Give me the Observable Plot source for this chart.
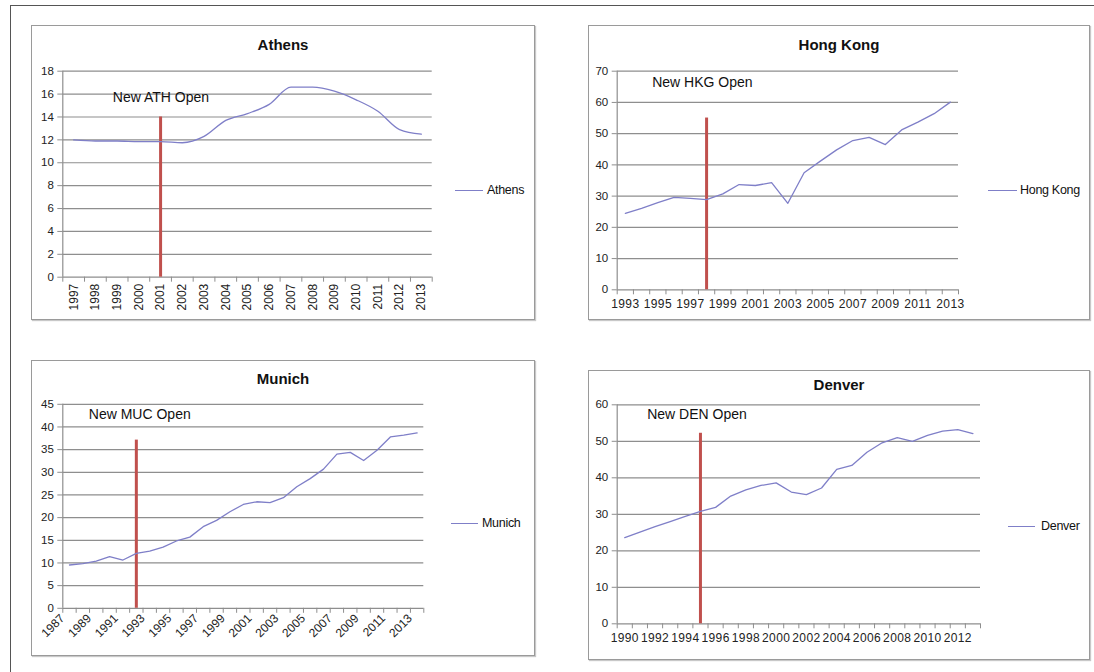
<!DOCTYPE html>
<html><head><meta charset="utf-8">
<script src="https://cdn.jsdelivr.net/npm/d3@7"></script>
<script src="https://cdn.jsdelivr.net/npm/@observablehq/plot@0.6"></script>
<style>
html,body{margin:0;padding:0;background:#fff;}
#page{position:relative;width:1094px;height:672px;overflow:hidden;font-family:"Liberation Sans",Arial,sans-serif;background:#fff;}
.outer{position:absolute;left:10px;top:5px;width:2000px;height:2000px;border:1px solid #555;box-sizing:border-box;}
.frame{position:absolute;border:1px solid #9a9a9a;box-shadow:1px 1px 1px #c8c8c8;box-sizing:border-box;background:#fff;}
.title{position:absolute;font-weight:bold;font-size:15px;color:#111;transform:translate(-50%,-50%);white-space:nowrap;}
.legline{position:absolute;height:0;border-top:1.3px solid #7f7fc8;}
.legtext{position:absolute;font-size:12.5px;color:#111;transform:translateY(-50%);white-space:nowrap;letter-spacing:-0.3px;}
</style></head><body><div id="page"><div class="outer"></div></div>
<script>
// ---- data ----
const athensTitle = "Athens";
const athensYears = [1997,1998,1999,2000,2001,2002,2003,2004,2005,2006,2007,2008,2009,2010,2011,2012,2013];
const athensValues = [12.0,11.9,11.9,11.85,11.85,11.75,12.3,13.7,14.3,15.1,16.6,16.6,16.25,15.5,14.5,12.9,12.5];
const athensXTicks = [1997,1998,1999,2000,2001,2002,2003,2004,2005,2006,2007,2008,2009,2010,2011,2012,2013];
const athensYTicks = [0,2,4,6,8,10,12,14,16,18];
const athensOpen = 2001, athensMarkerTop = 14, athensNote = "New ATH Open";

const hkTitle = "Hong Kong";
const hkYears = [1993,1994,1995,1996,1997,1998,1999,2000,2001,2002,2003,2004,2005,2006,2007,2008,2009,2010,2011,2012,2013];
const hkValues = [24.5,26.1,27.9,29.6,29.3,28.9,30.7,33.7,33.4,34.3,27.7,37.5,41.2,44.8,47.8,48.8,46.5,51.2,53.7,56.4,60.1];
const hkXTicks = [1993,1995,1997,1999,2001,2003,2005,2007,2009,2011,2013];
const hkYTicks = [0,10,20,30,40,50,60,70];
const hkOpen = 1998, hkMarkerTop = 55, hkNote = "New HKG Open";

const munichTitle = "Munich";
const munichYears = [1987,1988,1989,1990,1991,1992,1993,1994,1995,1996,1997,1998,1999,2000,2001,2002,2003,2004,2005,2006,2007,2008,2009,2010,2011,2012,2013];
const munichValues = [9.55,9.85,10.4,11.4,10.65,12.1,12.6,13.5,14.85,15.7,18.0,19.4,21.3,22.9,23.5,23.3,24.4,26.8,28.6,30.7,34.0,34.4,32.6,34.85,37.8,38.2,38.7];
const munichXTicks = [1987,1989,1991,1993,1995,1997,1999,2001,2003,2005,2007,2009,2011,2013];
const munichYTicks = [0,5,10,15,20,25,30,35,40,45];
const munichOpen = 1992, munichMarkerTop = 37.1, munichNote = "New MUC Open";

const denverTitle = "Denver";
const denverYears = [1990,1991,1992,1993,1994,1995,1996,1997,1998,1999,2000,2001,2002,2003,2004,2005,2006,2007,2008,2009,2010,2011,2012,2013];
const denverValues = [23.6,25.1,26.6,28.0,29.4,30.8,31.9,35.0,36.7,37.9,38.6,36.1,35.4,37.2,42.3,43.4,47.0,49.6,51.0,50.0,51.6,52.8,53.2,52.1];
const denverXTicks = [1990,1992,1994,1996,1998,2000,2002,2004,2006,2008,2010,2012];
const denverYTicks = [0,10,20,30,40,50,60];
const denverOpen = 1995, denverMarkerTop = 52.2, denverNote = "New DEN Open";

// ---- layout ----
const panels = [
  {title: athensTitle, years: athensYears, values: athensValues, xTicks: athensXTicks, yTicks: athensYTicks,
   open: athensOpen, markerTop: athensMarkerTop, note: athensNote,
   frame: {l: 31, t: 25, r: 535, b: 320}, plot: {x0: 62.3, x1: 431.7, y0: 70.7, y1: 276.7},
   rotate: -90, pad: 6.5, dx: 0, spacing: 0, noteDx: 50, noteDy: 26.5, titleY: 44,
   leg: {x0: 455, x1: 483, y: 190, tx: 487}, curve: "monotone-x"},
  {title: hkTitle, years: hkYears, values: hkValues, xTicks: hkXTicks, yTicks: hkYTicks,
   open: hkOpen, markerTop: hkMarkerTop, note: hkNote,
   frame: {l: 588, t: 25, r: 1090, b: 320}, plot: {x0: 616.7, x1: 958, y0: 70.7, y1: 289.3},
   rotate: 0, pad: 10, dx: 0, spacing: 0.4, noteDx: 35, noteDy: 11, titleY: 44,
   leg: {x0: 988, x1: 1017, y: 190, tx: 1020}, curve: "linear"},
  {title: munichTitle, years: munichYears, values: munichValues, xTicks: munichXTicks, yTicks: munichYTicks,
   open: munichOpen, markerTop: munichMarkerTop, note: munichNote,
   frame: {l: 31, t: 359.5, r: 535, b: 656}, plot: {x0: 62.3, x1: 423.3, y0: 403.3, y1: 607.3},
   rotate: -45, pad: 8, dx: -7, spacing: 0, noteDx: 26, noteDy: 10, titleY: 378,
   leg: {x0: 451, x1: 478, y: 523, tx: 482}, curve: "linear"},
  {title: denverTitle, years: denverYears, values: denverValues, xTicks: denverXTicks, yTicks: denverYTicks,
   open: denverOpen, markerTop: denverMarkerTop, note: denverNote,
   frame: {l: 588, t: 370, r: 1090, b: 660}, plot: {x0: 616.7, x1: 980, y0: 404.3, y1: 623.3},
   rotate: 0, pad: 9.5, dx: 0, spacing: 0.4, noteDx: 30, noteDy: 10, titleY: 384,
   leg: {x0: 1008, x1: 1035, y: 526, tx: 1041}, curve: "linear"}
];

const page = document.getElementById("page");
const gridColor = "#8e8e8e";
const seriesColor = "#7f7fc8";

function el(cls, css, text) {
  const d = document.createElement("div");
  d.className = cls;
  Object.assign(d.style, css);
  if (text !== undefined) d.textContent = text;
  page.appendChild(d);
  return d;
}

for (const p of panels) {
  const f = p.frame;
  el("frame", {left: f.l + "px", top: f.t + "px", width: (f.r - f.l) + "px", height: (f.b - f.t) + "px"});

  const data = p.years.map((year, i) => ({year, value: p.values[i]}));
  const first = p.years[0], last = p.years[p.years.length - 1];
  const bounds = p.years.map(y => y - 0.5).concat([last + 0.5]);
  const yMax = p.yTicks[p.yTicks.length - 1];

  const chart = Plot.plot({
    width: f.r - f.l,
    height: f.b - f.t,
    marginLeft: p.plot.x0 - f.l,
    marginRight: f.r - p.plot.x1,
    marginTop: p.plot.y0 - f.t,
    marginBottom: f.b - p.plot.y1,
    x: {type: "linear", domain: [first - 0.5, last + 0.5], label: null},
    y: {type: "linear", domain: [0, yMax], label: null},
    style: {background: "transparent", fontFamily: "Liberation Sans, Arial, sans-serif", color: "#222", overflow: "visible"},
    marks: [
      Plot.gridY({ticks: p.yTicks, stroke: gridColor, strokeOpacity: 1, strokeWidth: 1.2}),
      Plot.ruleX([first - 0.5], {stroke: gridColor, strokeWidth: 1.2}),
      Plot.axisY({ticks: p.yTicks, label: null, tickSize: 5, tickPadding: 4, stroke: gridColor, fill: "#222", fontSize: 11.5, tickFormat: d => String(d)}),
      Plot.axisX({ticks: bounds, label: null, tickSize: 5, tickFormat: () => "", stroke: gridColor}),
      Plot.axisX({ticks: p.xTicks, label: null, tickSize: 0, tickPadding: p.pad, tickRotate: p.rotate, fontSize: 12, fill: "#222", dx: p.dx, tickFormat: d => String(d)}),
      Plot.ruleX([p.open], {y1: 0, y2: p.markerTop, stroke: "#c0504d", strokeWidth: 3}),
      Plot.line(data, {x: "year", y: "value", stroke: seriesColor, strokeWidth: 1.3, curve: p.curve}),
      Plot.text([p.note], {text: d => d, frameAnchor: "top-left", dx: p.noteDx, dy: p.noteDy, textAnchor: "start", lineAnchor: "middle", fontSize: 14, fill: "#111"})
    ]
  });
  chart.style.position = "absolute";
  chart.style.left = f.l + "px";
  chart.style.top = f.t + "px";
  if (p.spacing) {
    d3.select(chart).selectAll('g[aria-label="x-axis tick label"] text').style("letter-spacing", p.spacing + "px");
  }
  page.appendChild(chart);

  el("title", {left: ((f.l + f.r) / 2) + "px", top: p.titleY + "px"}, p.title);
  el("legline", {left: p.leg.x0 + "px", top: p.leg.y + "px", width: (p.leg.x1 - p.leg.x0) + "px"});
  el("legtext", {left: p.leg.tx + "px", top: p.leg.y + "px"}, p.title);
}
</script></body></html>
